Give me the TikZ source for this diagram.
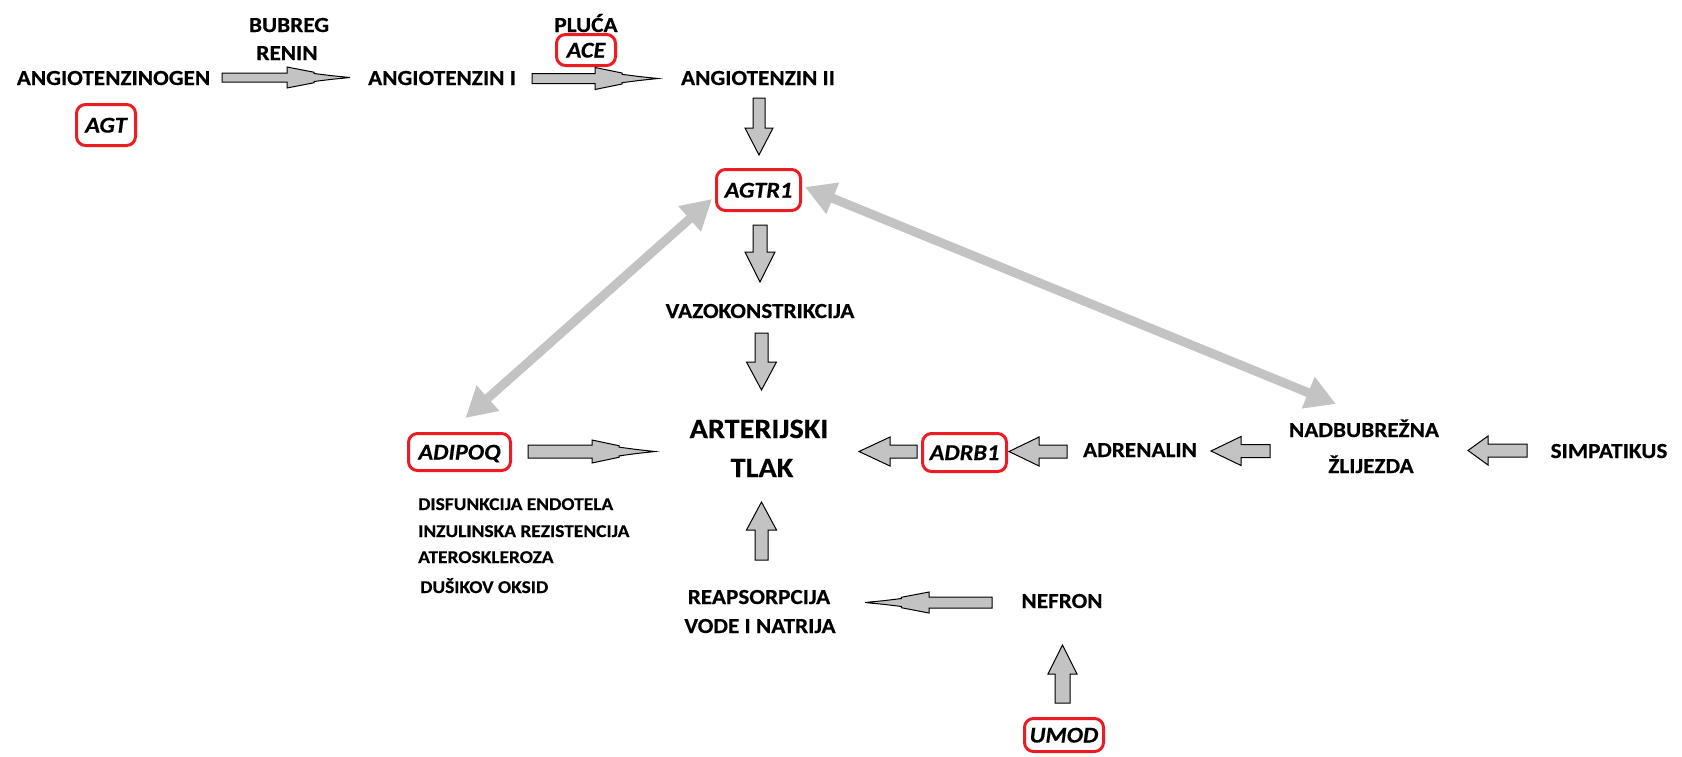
\documentclass[tikz,border=0pt]{standalone}
\usepackage{fontspec}
\setmainfont{Carlito}[FakeStretch=1.08,BoldFeatures={FakeBold=0.4},BoldItalicFeatures={FakeBold=0.4}]
\usetikzlibrary{arrows.meta,calc}
\definecolor{boxred}{RGB}{237,28,36}
\definecolor{arrgray}{RGB}{195,195,195}
\newcommand\lblfont{\fontsize{21.5}{25}\selectfont\bfseries}
\newcommand\bigfont{\fontsize{28}{32}\selectfont\bfseries}
\newcommand\smallfont{\fontsize{18}{21}\selectfont\bfseries}
\newcommand\genefont{\fontsize{22.5}{26}\selectfont\bfseries\itshape}
% block arrow: x y rot length shafthalf headhalf headlen
\newcommand\blockarr[7]{%
  \filldraw[blockstyle,shift={(#1,#2)},rotate=#3] (0,-#5) -- ({#4-#7},-#5) -- ({#4-#7},-#6) -- (#4,0) -- ({#4-#7},#6) -- ({#4-#7},#5) -- (0,#5) -- cycle;}
\newcommand\spikearr[7]{%
  \filldraw[blockstyle,shift={(#1,#2)},rotate=#3] (0,-#5) -- ({#4-#7},-#5) -- ({#4-#7},-#6) -- ({#4-0.57*#7},{-0.5*#6}) -- ({#4-0.57*#7},{-0.38*#6}) -- ({#4-0.3*#7},{-0.18*#6}) -- (#4,0) -- ({#4-0.3*#7},{0.18*#6}) -- ({#4-0.57*#7},{0.38*#6}) -- ({#4-0.57*#7},{0.5*#6}) -- ({#4-#7},#6) -- ({#4-#7},#5) -- (0,#5) -- cycle;}
\tikzset{
  blockstyle/.style={fill=arrgray,draw=black,line width=1pt,line join=miter},
  lbl/.style={font=\lblfont,inner sep=0pt,anchor=base},
  biglbl/.style={font=\bigfont,inner sep=0pt,anchor=base},
  smalllbl/.style={font=\smallfont,inner sep=0pt,anchor=base west},
  gene/.style={draw=boxred,line width=3pt,rounded corners=9pt,font=\genefont,inner sep=0pt,text height=15pt,text depth=0pt,fill=white},
  dbl/.style={draw=arrgray,line width=9pt,{Triangle[length=30pt,width=32pt]}-{Triangle[length=30pt,width=32pt]}}
}
\begin{document}
\begin{tikzpicture}[x=1pt,y=-1pt]
\useasboundingbox[fill=white] (0,0) rectangle (1682,756);
% texts
\node[lbl] (agn) at (113.5,85) {ANGIOTENZINOGEN};
\node[lbl] (bub) at (289,32) {BUBREG};
\node[lbl] (ren) at (287,60) {RENIN};
\node[lbl] (ang1) at (442,85) {ANGIOTENZIN I};
\node[lbl] (plu) at (586,32) {PLUĆA};
\node[lbl] (ang2) at (758,85) {ANGIOTENZIN II};
\node[lbl] (vazo) at (760,318) {VAZOKONSTRIKCIJA};
\node[biglbl] (art) at (759,438) {ARTERIJSKI};
\node[biglbl] (tlak) at (762,477) {TLAK};
\node[smalllbl] (l1) at (418,510) {DISFUNKCIJA ENDOTELA};
\node[smalllbl] (l2) at (418,537) {INZULINSKA REZISTENCIJA};
\node[smalllbl] (l3) at (418,563) {ATEROSKLEROZA};
\node[smalllbl] (l4) at (420,593) {DUŠIKOV OKSID};
\node[lbl] (adr) at (1140,457) {ADRENALIN};
\node[lbl] (nad1) at (1364,437) {NADBUBREŽNA};
\node[lbl] (nad2) at (1371,473) {ŽLIJEZDA};
\node[lbl] (simp) at (1609,458) {SIMPATIKUS};
\node[lbl] (rea1) at (759,604) {REAPSORPCIJA};
\node[lbl] (rea2) at (760,633) {VODE I NATRIJA};
\node[lbl] (nef) at (1062,608) {NEFRON};
% gene boxes
\node[gene,minimum width=59pt,minimum height=41pt] (agt) at (106,125) {AGT};
\node[gene,minimum width=59pt,minimum height=31pt] (ace) at (586,50) {ACE};
\node[gene,minimum width=84pt,minimum height=41pt] (agtr1) at (758.5,190) {AGTR1};
\node[gene,minimum width=102pt,minimum height=37pt] (adipoq) at (459.5,452) {ADIPOQ};
\node[gene,minimum width=84pt,minimum height=38pt] (adrb1) at (964.5,452.5) {ADRB1};
\node[gene,minimum width=79pt,minimum height=33pt] (umod) at (1064,735) {UMOD};
% spiky arrows
\spikearr{222}{77.5}{0}{128}{4.5}{10.5}{63}
\spikearr{532}{78.5}{0}{126}{5}{11}{63}
\spikearr{528}{451.5}{0}{127}{6.5}{11.5}{63}
\spikearr{992}{602.5}{180}{127}{5.5}{10.5}{64}
% block arrows
\blockarr{759}{98}{-90}{57}{6}{14}{27}
\blockarr{760}{225}{-90}{57}{7}{15}{30}
\blockarr{761.5}{333}{-90}{57}{6.5}{15}{28}
\blockarr{761.5}{560}{90}{58}{6.5}{15}{28}
\blockarr{917}{451.5}{180}{58}{6.5}{14.5}{31}
\blockarr{1067}{451.5}{180}{58}{6.5}{14.5}{30}
\blockarr{1270}{451}{180}{59}{6.5}{14.5}{30}
\blockarr{1527}{450.5}{180}{59}{6.5}{14.5}{20}
\blockarr{1062.5}{703}{90}{58}{7.5}{14.5}{29}
% double arrows
\coordinate (nadtip) at (1336,404);
\draw[dbl] ($(adipoq.north)+(6,-14)$) -- ($(agtr1.south west)+(-3,-13)$);
\draw[dbl] ($(agtr1.east)+(3,-3)$) -- (nadtip);
\end{tikzpicture}
\end{document}
